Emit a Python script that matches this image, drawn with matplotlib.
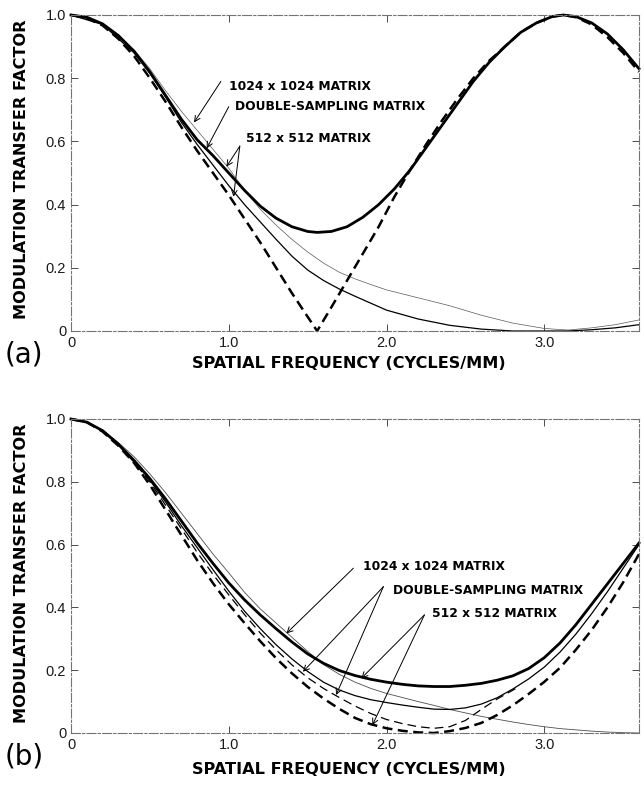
import numpy as np
import matplotlib
matplotlib.use('Agg')
import matplotlib.pyplot as plt

plt.rcParams['font.family'] = ['DejaVu Sans']

# ---- panel (a) data ----
xa_thick = [0, 0.1, 0.2, 0.3, 0.4, 0.5, 0.6, 0.7, 0.8, 0.9, 1.0, 1.1, 1.2, 1.3, 1.4, 1.5, 1.56,
            1.65, 1.75, 1.85, 1.95, 2.05, 2.15, 2.25, 2.35, 2.45, 2.55, 2.65, 2.75, 2.85, 2.95,
            3.05, 3.12, 3.2, 3.3, 3.4, 3.5, 3.6]
a_512_best = [1.0, 0.993, 0.972, 0.935, 0.885, 0.82, 0.745, 0.67, 0.605, 0.555, 0.50, 0.445, 0.395,
              0.357, 0.33, 0.315, 0.312, 0.315, 0.33, 0.36, 0.40, 0.45, 0.51, 0.58, 0.65, 0.72,
              0.79, 0.85, 0.90, 0.945, 0.975, 0.995, 1.0, 0.995, 0.975, 0.94, 0.89, 0.83]
a_512_worst = [1.0, 0.99, 0.967, 0.925, 0.87, 0.80, 0.725, 0.645, 0.57, 0.50, 0.43, 0.355, 0.28,
               0.20, 0.12, 0.045, 0.0, 0.075, 0.16, 0.245, 0.33, 0.425, 0.51, 0.59, 0.665, 0.735,
               0.80, 0.855, 0.90, 0.945, 0.975, 0.995, 1.0, 0.993, 0.97, 0.93, 0.88, 0.82]

xa_thin = [0, 0.2, 0.4, 0.5, 0.6, 0.7, 0.8, 0.9, 1.0, 1.1, 1.2, 1.3, 1.4, 1.5, 1.6, 1.7, 1.8, 1.9,
           2.0, 2.2, 2.4, 2.6, 2.8, 3.0, 3.15, 3.3, 3.45, 3.6]
a_1024 = [1.0, 0.973, 0.89, 0.83, 0.76, 0.695, 0.635, 0.575, 0.515, 0.445, 0.385, 0.335, 0.29, 0.25,
          0.215, 0.186, 0.165, 0.147, 0.13, 0.105, 0.08, 0.05, 0.025, 0.008, 0.003, 0.01, 0.02, 0.035]
a_double = [1.0, 0.97, 0.88, 0.815, 0.74, 0.66, 0.59, 0.525, 0.46, 0.40, 0.345, 0.29, 0.237, 0.193,
            0.16, 0.133, 0.11, 0.088, 0.066, 0.038, 0.018, 0.006, 0.0, 0.0, 0.0, 0.004, 0.01, 0.02]

# ---- panel (b) data ----
xb = [0, 0.1, 0.2, 0.3, 0.4, 0.5, 0.6, 0.7, 0.8, 0.9, 1.0, 1.1, 1.2, 1.3, 1.4, 1.5, 1.6, 1.7, 1.8,
      1.9, 2.0, 2.1, 2.2, 2.3, 2.4, 2.5, 2.6, 2.7, 2.8, 2.9, 3.0, 3.1, 3.2, 3.3, 3.4, 3.5, 3.6]
b_512_best = [1.0, 0.99, 0.963, 0.92, 0.868, 0.81, 0.745, 0.675, 0.605, 0.54, 0.478, 0.424, 0.376,
              0.332, 0.29, 0.252, 0.222, 0.199, 0.183, 0.171, 0.162, 0.155, 0.15, 0.148, 0.148, 0.152,
              0.158, 0.168, 0.182, 0.205, 0.24, 0.287, 0.345, 0.41, 0.475, 0.54, 0.605]
b_1024 = [1.0, 0.99, 0.965, 0.925, 0.88, 0.825, 0.765, 0.70, 0.635, 0.57, 0.51, 0.448, 0.395, 0.35,
          0.305, 0.26, 0.218, 0.187, 0.162, 0.142, 0.126, 0.113, 0.10, 0.088, 0.075, 0.064, 0.053,
          0.044, 0.035, 0.027, 0.02, 0.014, 0.01, 0.006, 0.003, 0.001, 0.0]
b_double_best = [1.0, 0.99, 0.963, 0.918, 0.867, 0.805, 0.735, 0.66, 0.59, 0.52, 0.452, 0.388,
                 0.332, 0.281, 0.236, 0.196, 0.162, 0.137, 0.119, 0.106, 0.097, 0.089, 0.082, 0.076,
                 0.075, 0.08, 0.092, 0.112, 0.14, 0.172, 0.21, 0.258, 0.315, 0.38, 0.45, 0.525, 0.60]
b_512_worst = [1.0, 0.99, 0.96, 0.915, 0.86, 0.79, 0.71, 0.63, 0.55, 0.477, 0.41, 0.35, 0.292, 0.238,
               0.19, 0.147, 0.11, 0.077, 0.048, 0.028, 0.015, 0.007, 0.002, 0.0, 0.006, 0.016, 0.032,
               0.057, 0.088, 0.124, 0.163, 0.208, 0.265, 0.328, 0.40, 0.48, 0.57]
xb_dw = [0, 0.1, 0.2, 0.3, 0.4, 0.5, 0.6, 0.7, 0.8, 0.9, 1.0, 1.1, 1.2, 1.3, 1.4, 1.5, 1.6, 1.7, 1.8,
         1.9, 2.0, 2.1, 2.2, 2.3, 2.4, 2.5, 2.6, 2.7, 2.82]
b_double_worst = [1.0, 0.99, 0.962, 0.917, 0.862, 0.80, 0.725, 0.65, 0.575, 0.505, 0.44, 0.377,
                  0.318, 0.265, 0.217, 0.176, 0.142, 0.113, 0.086, 0.062, 0.043, 0.03, 0.02, 0.015,
                  0.02, 0.04, 0.075, 0.108, 0.142]

xticks = [0, 1.0, 2.0, 3.0]
xtick_labels = ['0', '1.0', '2.0', '3.0']
yticks = [0, 0.2, 0.4, 0.6, 0.8, 1.0]
ytick_labels = ['0', '0.2', '0.4', '0.6', '0.8', '1.0']

labels = ['1024 x 1024 MATRIX', 'DOUBLE-SAMPLING MATRIX', '512 x 512 MATRIX']

fig = plt.figure(figsize=(6.44, 7.86), dpi=100)
ax_a = fig.add_axes([71/644, 1-331/786, 568/644, 316/786])
ax_b = fig.add_axes([71/644, 1-733/786, 568/644, 314/786])

for ax in (ax_a, ax_b):
    ax.set_xlim(0, 3.6)
    ax.set_ylim(0, 1.0)
    ax.set_xticks(xticks)
    ax.set_xticklabels(xtick_labels, family='Liberation Sans')
    ax.set_yticks(yticks)
    ax.set_yticklabels(ytick_labels, family='Liberation Sans')
    ax.tick_params(direction='in', top=True, right=True, length=5, width=0.7,
                   labelsize=10.5, colors='0.3', labelcolor='0.1')
    for s in ax.spines.values():
        s.set_color('0.45')
        s.set_linewidth(0.8)
        s.set_linestyle((0, (8, 2, 2, 2)))

# panel (a)
ax_a.plot(xa_thin, a_1024, color='0.35', lw=0.5, clip_on=False)
ax_a.plot(xa_thin, a_double, color='black', lw=0.9, clip_on=False)
ax_a.plot(xa_thick, a_512_best, color='black', lw=2.0, clip_on=False)
ax_a.plot(xa_thick, a_512_worst, color='black', lw=1.8, dashes=(4, 2.2), clip_on=False)

txt = dict(fontsize=8.8, fontweight='bold')
ax_a.text(1.0, 0.775, labels[0], va='center', ha='left', **txt)
ax_a.text(1.04, 0.709, labels[1], va='center', ha='left', **txt)
ax_a.text(1.11, 0.608, labels[2], va='center', ha='left', **txt)
arr = dict(arrowstyle='->', lw=0.7, color='black', shrinkA=0, shrinkB=0)
ax_a.annotate('', xy=(0.78, 0.66), xytext=(0.95, 0.79), arrowprops=arr)
ax_a.annotate('', xy=(0.86, 0.578), xytext=(1.0, 0.71), arrowprops=arr)
ax_a.annotate('', xy=(0.985, 0.52), xytext=(1.07, 0.585), arrowprops=arr)
ax_a.annotate('', xy=(1.03, 0.425), xytext=(1.07, 0.585), arrowprops=arr)

# panel (b)
ax_b.plot(xb, b_1024, color='0.3', lw=0.6, clip_on=False)
ax_b.plot(xb, b_double_best, color='black', lw=0.9, clip_on=False)
ax_b.plot(xb, b_512_best, color='black', lw=2.0, clip_on=False)
ax_b.plot(xb_dw, b_double_worst, color='black', lw=0.9, dashes=(7, 4), clip_on=False)
ax_b.plot(xb, b_512_worst, color='black', lw=1.8, dashes=(4, 2.2), clip_on=False)

ax_b.text(1.85, 0.53, labels[0], va='center', ha='left', **txt)
ax_b.text(2.04, 0.455, labels[1], va='center', ha='left', **txt)
ax_b.text(2.29, 0.381, labels[2], va='center', ha='left', **txt)
ax_b.annotate('', xy=(1.365, 0.317), xytext=(1.79, 0.525), arrowprops=arr)
ax_b.annotate('', xy=(1.47, 0.195), xytext=(1.98, 0.466), arrowprops=arr)
ax_b.annotate('', xy=(1.68, 0.121), xytext=(1.98, 0.466), arrowprops=arr)
ax_b.annotate('', xy=(1.84, 0.174), xytext=(2.24, 0.376), arrowprops=arr)
ax_b.annotate('', xy=(1.91, 0.025), xytext=(2.24, 0.376), arrowprops=arr)

# axis titles and panel letters
lab = dict(fontsize=11.6, fontweight='bold')
fig.text(349/644, 1-364/786, 'SPATIAL FREQUENCY (CYCLES/MM)', ha='center', va='center', **lab)
fig.text(349/644, 1-770/786, 'SPATIAL FREQUENCY (CYCLES/MM)', ha='center', va='center', **lab)
fig.text(22/644, 1-169/786, 'MODULATION TRANSFER FACTOR', rotation=90, ha='center', va='center', **lab)
fig.text(22/644, 1-573/786, 'MODULATION TRANSFER FACTOR', rotation=90, ha='center', va='center', **lab)
fig.text(5/644, 1-355/786, '(a)', fontsize=20, ha='left', va='center')
fig.text(5/644, 1-756/786, '(b)', fontsize=20, ha='left', va='center')

fig.savefig('out.png', dpi=100)
